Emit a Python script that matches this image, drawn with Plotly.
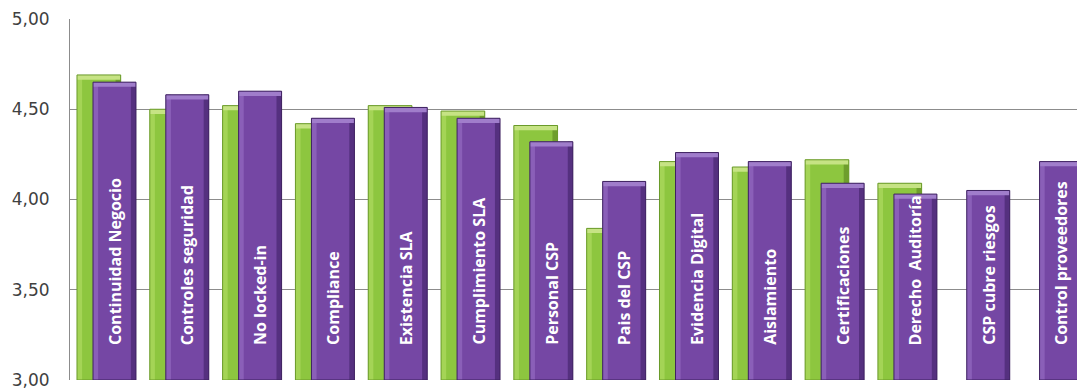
import plotly.graph_objects as go

# Criterios evaluados (eje X) y puntuaciones medias de las dos series
categorias = [
    "Continuidad Negocio", "Controles seguridad", "No locked-in", "Compliance",
    "Existencia SLA", "Cumplimiento SLA", "Personal CSP", "Pais del CSP",
    "Evidencia Digital", "Aislamiento", "Certificaciones", "Derecho  Auditoría",
    "CSP cubre riesgos", "Control proveedores",
]
serie_verde = [4.69, 4.50, 4.52, 4.42, 4.52, 4.49, 4.41, 3.84,
               4.21, 4.18, 4.22, 4.09, None, None]
serie_morada = [4.65, 4.58, 4.60, 4.45, 4.51, 4.45, 4.32, 4.10,
                4.26, 4.21, 4.09, 4.03, 4.05, 4.21]
ticks_y = [3.0, 3.5, 4.0, 4.5, 5.0]
ticks_y_txt = ["3,00", "3,50", "4,00", "4,50", "5,00"]

BASE = 3.0
CAP = 0.026      # altura del bisel superior (unidades del eje Y)
EDGE = 0.07      # anchura de los cantos laterales (unidades de categoría)


def barra_biselada(fig, valores, ancho, desplaz, c_cuerpo, c_luz, c_sombra, c_tapa, c_borde):
    """Dibuja una serie de barras con aspecto de relieve (cuerpo, cantos, tapa y borde)."""
    alturas = [None if v is None else v - BASE for v in valores]
    comunes = dict(x=categorias, hoverinfo="skip", showlegend=False)
    # cuerpo
    fig.add_trace(go.Bar(y=alturas, base=BASE, width=ancho, offset=desplaz,
                         marker=dict(color=c_cuerpo, line=dict(width=0)), **comunes))
    # canto izquierdo iluminado
    fig.add_trace(go.Bar(y=alturas, base=BASE, width=EDGE, offset=desplaz,
                         marker=dict(color=c_luz, line=dict(width=0)), **comunes))
    # canto derecho en sombra
    fig.add_trace(go.Bar(y=alturas, base=BASE, width=EDGE, offset=desplaz + ancho - EDGE,
                         marker=dict(color=c_sombra, line=dict(width=0)), **comunes))
    # tapa superior
    fig.add_trace(go.Bar(y=[None if v is None else CAP for v in valores],
                         base=[None if v is None else v - CAP for v in valores],
                         width=ancho, offset=desplaz,
                         marker=dict(color=c_tapa, line=dict(width=0)), **comunes))
    # contorno
    fig.add_trace(go.Bar(y=alturas, base=BASE, width=ancho, offset=desplaz,
                         marker=dict(color="rgba(0,0,0,0)", line=dict(color=c_borde, width=1)),
                         **comunes))


fig = go.Figure()

W_VERDE, OFF_VERDE = 0.60, -0.404
W_MORADA, OFF_MORADA = 0.59, -0.184

# Serie verde (detrás) y serie morada (delante)
barra_biselada(fig, serie_verde, W_VERDE, OFF_VERDE,
               "#8DC63F", "#A4D456", "#6E9E2C", "#C6E384", "#6A9A2A")
barra_biselada(fig, serie_morada, W_MORADA, OFF_MORADA,
               "#7547A4", "#8A5FB8", "#55307F", "#A07DCB", "#3E2260")

# Etiquetas verticales dentro de las barras moradas
xshift = (OFF_MORADA + W_MORADA / 2) * 72.8
for cat in categorias:
    fig.add_annotation(
        x=cat, y=BASE, xref="x", yref="y", xshift=xshift, yshift=33,
        text=cat, textangle=-90, showarrow=False,
        xanchor="center", yanchor="bottom",
        font=dict(family="Open Sans", size=16, color="white", weight=700),
    )

fig.update_layout(
    width=1077, height=390,
    margin=dict(l=70, r=0, t=19, b=7),
    barmode="overlay",
    plot_bgcolor="white", paper_bgcolor="white",
    separators=",.",
)
fig.update_xaxes(
    range=[-0.5, 13.33], showticklabels=False, showgrid=False,
    showline=False, zeroline=False,
)
fig.update_yaxes(
    range=[3.0, 5.0], tickvals=ticks_y, ticktext=ticks_y_txt,
    showgrid=True, gridcolor="#8C8C8C", gridwidth=1,
    showline=True, linecolor="#8C8C8C", linewidth=1, zeroline=False,
    tickfont=dict(family="DejaVu Sans", size=17, color="#404040"),
    ticklabelstandoff=16, ticklabeloverflow="allow",
)

fig.write_html("out.html")
